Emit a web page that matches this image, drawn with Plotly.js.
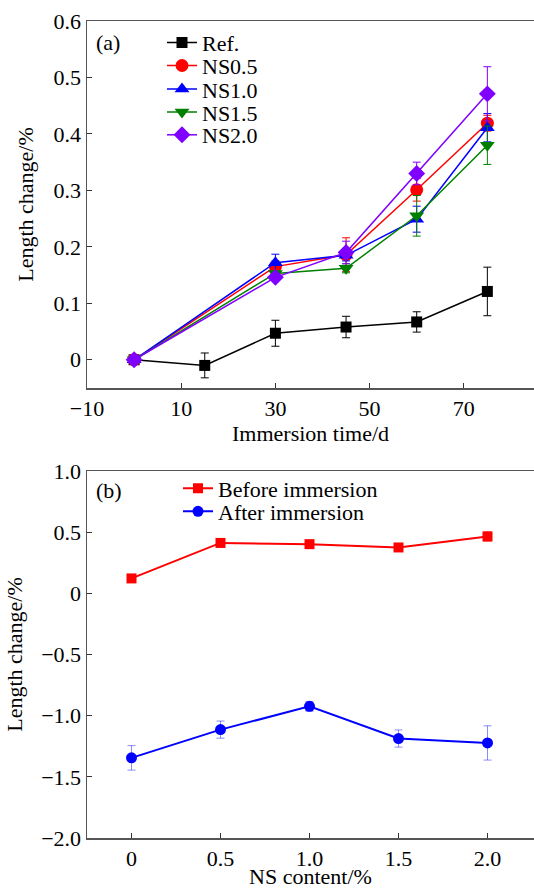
<!DOCTYPE html>
<html>
<head>
<meta charset="utf-8">
<script src="https://cdn.plot.ly/plotly-3.0.1.min.js"></script>
<style>
  html, body { margin: 0; padding: 0; background: #fff; }
  #chart { width: 534px; height: 889px; }
</style>
</head>
<body>
<div id="chart"></div>
<script>
// (a) length change vs immersion time
const daysRef = [0, 15, 30, 45, 60, 75];
const daysNS = [0, 30, 45, 60, 75];
const refVals = [0, -0.01, 0.047, 0.058, 0.067, 0.121];
const refErr = [0, 0.022, 0.023, 0.019, 0.018, 0.043];
const ns05Vals = [0, 0.165, 0.186, 0.301, 0.419];
const ns05Err = [0, 0.01, 0.03, 0.02, 0.014];
const ns10Vals = [0, 0.172, 0.185, 0.249, 0.411];
const ns10Err = [0, 0.015, 0.01, 0.023, 0.025];
const ns15Vals = [0, 0.153, 0.162, 0.255, 0.38];
const ns15Err = [0, 0.005, 0.008, 0.036, 0.034];
const ns20Vals = [0, 0.146, 0.19, 0.33, 0.471];
const ns20Err = [0, 0.005, 0.02, 0.02, 0.048];

// (b) length change vs NS content
const nsContent = [0, 0.5, 1.0, 1.5, 2.0];
const beforeVals = [0.122, 0.412, 0.402, 0.375, 0.465];
const beforeErr = [0.03, 0.02, 0.02, 0.03, 0.04];
const afterVals = [-1.345, -1.114, -0.924, -1.187, -1.223];
const afterErr = [0.1, 0.07, 0.04, 0.07, 0.14];

// tick labels
const aYTicks = [0, 0.1, 0.2, 0.3, 0.4, 0.5, 0.6];
const aYText = ['0', '0.1', '0.2', '0.3', '0.4', '0.5', '0.6'];
const aXTicks = [-10, 10, 30, 50, 70];
const aXText = ['\u221210', '10', '30', '50', '70'];
const bYTicks = [1.0, 0.5, 0, -0.5, -1.0, -1.5, -2.0];
const bYText = ['1.0', '0.5', '0', '\u22120.5', '\u22121.0', '\u22121.5', '\u22122.0'];
const bXTicks = [0, 0.5, 1.0, 1.5, 2.0];
const bXText = ['0', '0.5', '1.0', '1.5', '2.0'];

const FONT = '"Liberation Serif", "Times New Roman", serif';

function series(name, x, y, err, color, symbol, size, legendId, xa, ya, errColor, lw) {
  return {
    type: 'scatter', mode: 'lines+markers', name: name,
    x: x, y: y, xaxis: xa, yaxis: ya, legend: legendId,
    line: { color: color, width: lw },
    marker: { color: color, symbol: symbol, size: size, line: { width: 0 } },
    error_y: { type: 'data', array: err, visible: true, color: errColor || color, thickness: 1, width: 4 }
  };
}

const traces = [
  series('Ref.', daysRef, refVals, refErr, '#000000', 'square', 11, 'legend', 'x', 'y', null, 1.5),
  series('NS0.5', daysNS, ns05Vals, ns05Err, '#ff0000', 'circle', 13, 'legend2', 'x', 'y', null, 1.5),
  series('NS1.0', daysNS, ns10Vals, ns10Err, '#0000ff', 'triangle-up', 13, 'legend3', 'x', 'y', null, 1.5),
  series('NS1.5', daysNS, ns15Vals, ns15Err, '#008000', 'triangle-down', 13, 'legend4', 'x', 'y', null, 1.5),
  series('NS2.0', daysNS, ns20Vals, ns20Err, '#8000ff', 'diamond', 13, 'legend5', 'x', 'y', null, 1.5),
  series('Before immersion', nsContent, beforeVals, beforeErr, '#ff0000', 'square', 10, 'legend6', 'x2', 'y2', 'rgba(255,0,0,0.45)', 2),
  series('After immersion', nsContent, afterVals, afterErr, '#0000ff', 'circle', 11, 'legend7', 'x2', 'y2', 'rgba(0,0,255,0.45)', 2)
];

const W = 534, H = 889;
const M = { l: 87, r: 0, t: 21, b: 51 };
const plotH = H - M.t - M.b;
const plotW = W - M.l - M.r;
const px = p => (p - M.l) / plotW;
const py = q => (H - M.b - q) / plotH;

function legendAt(xPix, yPix) {
  return {
    x: px(xPix), y: py(yPix), xanchor: 'left', yanchor: 'middle',
    bgcolor: 'rgba(0,0,0,0)', borderwidth: 0,
    font: { family: FONT, size: 22, color: '#000' }
  };
}

const axisBase = {
  showline: true, linecolor: '#555', linewidth: 1.5,
  ticks: 'inside', ticklen: 5, tickwidth: 1, tickcolor: '#333',
  showgrid: false, zeroline: false,
  tickfont: { family: FONT, size: 22, color: '#000' },
  tickmode: 'array'
};

const layout = {
  width: W, height: H, margin: M,
  paper_bgcolor: '#fff', plot_bgcolor: '#fff',
  font: { family: FONT, size: 22, color: '#000' },
  showlegend: true,
  xaxis: Object.assign({}, axisBase, {
    anchor: 'y', domain: [0, 1], range: [-10, -10 + plotW / 4.71],
    tickvals: aXTicks, ticktext: aXText, mirror: true,
    title: { text: 'Immersion time/d', font: { family: FONT, size: 22 }, standoff: 4 }
  }),
  yaxis: Object.assign({}, axisBase, {
    anchor: 'x', domain: [py(388), 1], range: [-0.05, 0.6],
    tickvals: aYTicks, ticktext: aYText,
    title: { text: 'Length change/%', font: { family: FONT, size: 22 }, standoff: 14 }
  }),
  xaxis2: Object.assign({}, axisBase, {
    anchor: 'y2', domain: [0, 1], range: [-0.25, -0.25 + plotW / 178],
    tickvals: bXTicks, ticktext: bXText, mirror: true,
    title: { text: 'NS content/%', font: { family: FONT, size: 22 }, standoff: 10 }
  }),
  yaxis2: Object.assign({}, axisBase, {
    anchor: 'x2', domain: [0, py(471)], range: [-2.0, 1.0],
    tickvals: bYTicks, ticktext: bYText,
    title: { text: 'Length change/%', font: { family: FONT, size: 22 }, standoff: 12 }
  }),
  legend: legendAt(162, 42.7),
  legend2: legendAt(162, 65.7),
  legend3: legendAt(162, 89.3),
  legend4: legendAt(162, 112.3),
  legend5: legendAt(162, 135),
  legend6: legendAt(178, 488.5),
  legend7: legendAt(178, 511.5),
  annotations: [
    { text: '(a)', xref: 'paper', yref: 'paper', x: px(94), y: py(42), xanchor: 'left', yanchor: 'middle',
      showarrow: false, font: { family: FONT, size: 22, color: '#000' } },
    { text: '(b)', xref: 'paper', yref: 'paper', x: px(94), y: py(490), xanchor: 'left', yanchor: 'middle',
      showarrow: false, font: { family: FONT, size: 22, color: '#000' } }
  ]
};

Plotly.newPlot('chart', traces, layout, { staticPlot: true, displayModeBar: false });
</script>
</body>
</html>
